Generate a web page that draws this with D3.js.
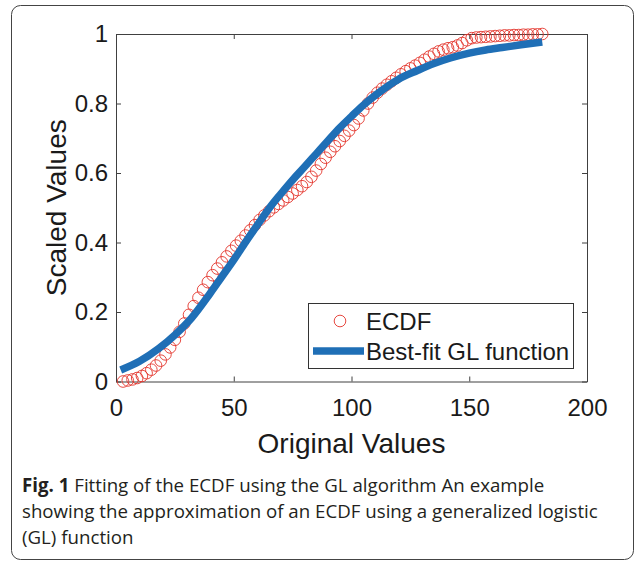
<!DOCTYPE html>
<html>
<head>
<meta charset="utf-8">
<script src="https://cdn.jsdelivr.net/npm/d3@7"></script>
<style>
  body { margin: 0; background: #fff; }
  .chart text { font-family: "Liberation Sans", Arial, sans-serif; fill: #1a1a1a; }
  .chart text.caption { font-family: "Open Sans", "Noto Sans", sans-serif; fill: #231f20; }
</style>
</head>
<body>
<div id="container"></div>
<script>

// ECDF points
var ecdfX = [3, 5, 7, 9, 11, 13, 15, 17, 19, 21, 23, 25, 27, 29, 31, 33, 35, 37, 39, 41,
             43, 45, 47, 49, 51, 53, 55, 57, 59, 61, 63, 65, 67, 69, 71, 73, 75, 77, 79, 81,
             83, 85, 87, 89, 91, 93, 95, 97, 99, 101, 103, 105, 107, 109, 111, 113, 115, 117, 119, 121,
             123, 125, 127, 129, 131, 133, 135, 137, 139, 141, 143, 145, 147, 149, 151, 153, 155, 157, 159, 161,
             163, 165, 167, 169, 171, 173, 175, 177, 179, 181];
var ecdfY = [0.000, 0.003, 0.006, 0.010, 0.016, 0.024, 0.034, 0.046, 0.060, 0.078,
             0.098, 0.120, 0.143, 0.167, 0.192, 0.217, 0.241, 0.264, 0.286, 0.306,
             0.325, 0.343, 0.360, 0.376, 0.391, 0.405, 0.420, 0.435, 0.450, 0.465,
             0.478, 0.490, 0.501, 0.511, 0.521, 0.531, 0.541, 0.551, 0.562, 0.574,
             0.589, 0.607, 0.626, 0.644, 0.661, 0.677, 0.692, 0.707, 0.722, 0.738,
             0.757, 0.780, 0.800, 0.817, 0.831, 0.843, 0.854, 0.864, 0.874, 0.884,
             0.893, 0.901, 0.909, 0.917, 0.926, 0.935, 0.943, 0.950, 0.955, 0.959,
             0.962, 0.967, 0.974, 0.982, 0.988, 0.990, 0.991, 0.992, 0.993, 0.994,
             0.995, 0.996, 0.996, 0.997, 0.997, 0.998, 0.998, 0.999, 0.999, 1.000];

// Best-fit GL function
var fitX = [2, 10, 18, 25, 32, 40, 45, 50, 55, 60, 65, 70, 75, 80, 85,
            90, 95, 100, 105, 110, 115, 120, 128, 135, 142, 150, 157, 164, 172, 181];
var fitY = [0.033, 0.058, 0.094, 0.134, 0.182, 0.254, 0.302, 0.350, 0.401, 0.450, 0.498, 0.540, 0.580, 0.617, 0.655,
            0.693, 0.730, 0.763, 0.795, 0.823, 0.848, 0.870, 0.895, 0.915, 0.931, 0.945, 0.954, 0.961, 0.969, 0.977];

var xTicks = [0, 50, 100, 150, 200];
var yTicks = [0, 0.2, 0.4, 0.6, 0.8, 1];
var legendLabels = ["ECDF", "Best-fit GL function"];
var captionLines = [
  ["Fig. 1", " Fitting of the ECDF using the GL algorithm An example"],
  ["", "showing the approximation of an ECDF using a generalized logistic"],
  ["", "(GL) function"]
];

var width = 636,
    height = 561;

var red = "#e3342b",
    blue = "#1f6fb6",
    axisColor = "#404040";

var svg = d3.select("#container")
            .append("svg")
              .attr("class", "chart")
              .attr("width", width)
              .attr("height", height);

// Outer frame
svg.append("rect")
    .attr("x", 11.5)
    .attr("y", 5.5)
    .attr("width", 622)
    .attr("height", 554)
    .attr("rx", 9)
    .attr("fill", "none")
    .attr("stroke", "#444")
    .attr("stroke-width", 1);

// Plot area
var plotLeft = 116, plotRight = 587, plotTop = 34, plotBottom = 381.5;

var x = d3.scaleLinear().domain([0, 200]).range([plotLeft, plotRight]);
var y = d3.scaleLinear().domain([0, 1]).range([plotBottom, plotTop]);

var xAxis = svg.append("g")
    .attr("transform", "translate(0," + plotBottom + ")")
    .call(d3.axisBottom(x).tickValues(xTicks).tickSizeInner(-5).tickSizeOuter(0).tickPadding(17));
var yAxis = svg.append("g")
    .attr("transform", "translate(" + plotLeft + ",0)")
    .call(d3.axisLeft(y).tickValues(yTicks).tickFormat(d3.format("~g"))
            .tickSizeInner(-5).tickSizeOuter(0).tickPadding(8));
var xTop = svg.append("g")
    .attr("transform", "translate(0," + plotTop + ")")
    .call(d3.axisTop(x).tickValues(xTicks).tickSizeInner(-5).tickSizeOuter(0).tickFormat(""));
var yRight = svg.append("g")
    .attr("transform", "translate(" + plotRight + ",0)")
    .call(d3.axisRight(y).tickValues(yTicks).tickSizeInner(-5).tickSizeOuter(0).tickFormat(""));

[xAxis, yAxis, xTop, yRight].forEach(function(g) {
  g.select(".domain").attr("stroke", axisColor);
  g.selectAll(".tick line").attr("stroke", axisColor);
  g.selectAll(".tick text")
    .attr("fill", "#1a1a1a")
    .style("font-size", "24px")
    .style("font-family", "'Liberation Sans', Arial, sans-serif");
});

// Axis labels
svg.append("text")
    .attr("x", (plotLeft + plotRight) / 2)
    .attr("y", 453)
    .attr("text-anchor", "middle")
    .style("font-size", "28px")
    .text("Original Values");

svg.append("text")
    .attr("transform", "translate(66," + (plotTop + plotBottom) / 2 + ") rotate(-90)")
    .attr("text-anchor", "middle")
    .style("font-size", "28px")
    .text("Scaled Values");

// ECDF circles
var pts = ecdfX.map(function(d, i) { return [d, ecdfY[i]]; });
svg.append("g")
  .selectAll("circle")
  .data(pts)
  .enter()
  .append("circle")
    .attr("cx", function(d) { return x(d[0]); })
    .attr("cy", function(d) { return y(d[1]); })
    .attr("r", 5.8)
    .attr("fill", "none")
    .attr("stroke", red)
    .attr("stroke-width", 0.9);

// GL fit line
var line = d3.line()
    .x(function(d) { return x(d[0]); })
    .y(function(d) { return y(d[1]); })
    .curve(d3.curveMonotoneX);

svg.append("path")
    .datum(fitX.map(function(d, i) { return [d, fitY[i]]; }))
    .attr("d", line)
    .attr("fill", "none")
    .attr("stroke", blue)
    .attr("stroke-width", 7.5);

// Legend
var legend = svg.append("g");
legend.append("rect")
    .attr("x", 308.5)
    .attr("y", 303.5)
    .attr("width", 265)
    .attr("height", 65)
    .attr("fill", "#fff")
    .attr("stroke", "#333")
    .attr("stroke-width", 1);
legend.append("circle")
    .attr("cx", 340)
    .attr("cy", 321)
    .attr("r", 5.8)
    .attr("fill", "none")
    .attr("stroke", red)
    .attr("stroke-width", 0.9);
legend.append("line")
    .attr("x1", 313).attr("x2", 364)
    .attr("y1", 351).attr("y2", 351)
    .attr("stroke", blue)
    .attr("stroke-width", 7.5);
legend.selectAll("text.leg")
  .data(legendLabels)
  .enter()
  .append("text")
    .attr("class", "leg")
    .attr("x", 366)
    .attr("y", function(d, i) { return 321 + i * 30; })
    .attr("dy", "0.36em")
    .style("font-size", "24px")
    .text(function(d) { return d; });

// Caption
var cap = svg.selectAll("text.caption")
  .data(captionLines)
  .enter()
  .append("text")
    .attr("class", "caption")
    .attr("x", 22)
    .attr("y", function(d, i) { return 492 + i * 26; })
    .style("font-size", "18.7px");
cap.append("tspan")
    .style("font-weight", "bold")
    .text(function(d) { return d[0]; });
cap.append("tspan")
    .text(function(d) { return d[1]; });

</script>
</body>
</html>
